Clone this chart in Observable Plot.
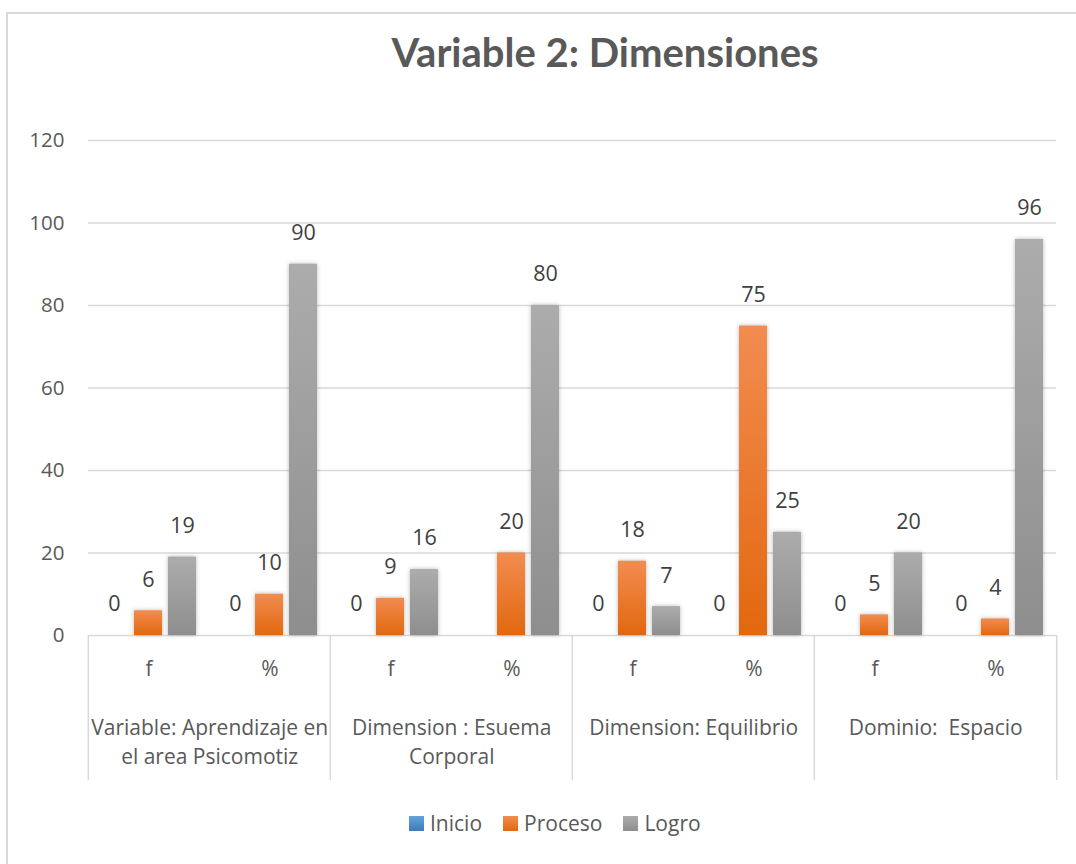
<!DOCTYPE html>
<html>
<head>
<meta charset="utf-8">
<script src="https://cdn.jsdelivr.net/npm/d3@7"></script>
<script src="https://cdn.jsdelivr.net/npm/@observablehq/plot@0.6"></script>
<style>
  html, body { margin: 0; padding: 0; background: #fff; }
  body { width: 1076px; height: 864px; position: relative; overflow: hidden; font-family: "Open Sans", sans-serif; }
  #border { position: absolute; left: 6px; top: 12px; width: 1100px; height: 900px; border: 2px solid #d9d9d9; }
  #title { position: absolute; top: 27px; left: 605px; transform: translateX(-50%); font-family: Lato, sans-serif; font-weight: bold; font-size: 40px; line-height: 50px; color: #595959; white-space: nowrap; }
  #chart { position: absolute; left: 0; top: 100px; }
  #legend { position: absolute; top: 809px; left: 409px; display: flex; align-items: center; font-size: 21px; color: #595959; white-space: nowrap; }
  #legend .item { display: flex; align-items: center; margin-right: 21px; }
  #legend .swatch { width: 15px; height: 15px; margin-right: 6px; }
  g[aria-label="bar"] rect { filter: drop-shadow(0 0 2px rgba(0, 0, 0, 0.28)); }
</style>
</head>
<body>
<div id="border"></div>
<div id="title">Variable 2: Dimensiones</div>
<div id="chart"></div>
<div id="legend"></div>
<script>
// Groups along the category axis, each split into frequency (f) and percentage (%)
const groups = ["Variable: Aprendizaje en\nel area Psicomotiz", "Dimension : Esuema\nCorporal", "Dimension: Equilibrio", "Dominio:  Espacio"];
const measures = ["f", "%"];
const series = ["Inicio", "Proceso", "Logro"];

// Values per category, in order: group 1 f, group 1 %, group 2 f, ...
const inicio  = [0, 0, 0, null, 0, 0, 0, 0];
const proceso = [6, 10, 9, 20, 18, 75, 5, 4];
const logro   = [19, 90, 16, 80, 7, 25, 20, 96];

const yTicks = [0, 20, 40, 60, 80, 100, 120];

// Bar gradients (top colour, bottom colour)
const gradients = {
  Inicio:  ["#65a3dc", "#3c7cbd"],
  Proceso: ["#f28c50", "#e2680f"],
  Logro:   ["#acacac", "#8e8e8e"]
};

const categories = groups.flatMap((g, gi) => measures.map(m => `${gi}|${m}`));
const seriesValues = [inicio, proceso, logro];
const rows = categories.flatMap((key, i) =>
  series.map((s, si) => ({key, series: s, value: seriesValues[si][i]})));
const cats = categories.map(key => ({key, measure: key.split("|")[1]}));
const groupRows = groups.map((label, gi) => ({key: `${gi}|${measures[0]}`, label}));
const lastKey = categories[categories.length - 1];

const W = 1076, H = 700, ML = 86, MR = 19, MT = 40, MB = 165;
const cellW = (W - ML - MR) / categories.length;
const lineColor = "#d9d9d9";

const chart = Plot.plot({
  width: W, height: H,
  marginLeft: ML, marginRight: MR, marginTop: MT, marginBottom: MB,
  style: {fontFamily: '"Open Sans", sans-serif', fontSize: "20.5px", color: "#595959", background: "transparent", overflow: "visible"},
  fx: {domain: categories, padding: 0, axis: null, label: null},
  x: {domain: series, paddingInner: 0.17, paddingOuter: 0.32, axis: null, label: null},
  y: {domain: [0, 120], ticks: yTicks, tickSize: 0, tickPadding: 24, label: null},
  color: {domain: series, range: series.map(s => `url(#grad-${s})`)},
  marks: [
    Plot.ruleY(yTicks, {stroke: lineColor, strokeWidth: 1.3}),
    // group separators below the baseline
    Plot.ruleX(groupRows, {fx: "key", x: null, y1: 0, y2: 0, insetBottom: -145, dx: -cellW / 2, stroke: lineColor, strokeWidth: 1.5}),
    Plot.ruleX([lastKey], {fx: d => d, x: null, y1: 0, y2: 0, insetBottom: -145, dx: cellW / 2, stroke: lineColor, strokeWidth: 1.5}),
    Plot.barY(rows, {fx: "key", x: "series", y: "value", fill: "series"}),
    Plot.text(rows, {fx: "key", x: "series", y: "value", text: "value", dy: -31, fontSize: 21.5, fill: "#404040"}),
    Plot.text(cats, {fx: "key", text: "measure", frameAnchor: "bottom", dy: 40, fontSize: 21, fill: "#595959"}),
    Plot.text(groupRows, {fx: "key", text: "label", frameAnchor: "bottom", lineAnchor: "top", dy: 80, dx: cellW / 2, lineHeight: 1.34, fontSize: 21, fill: "#595959"})
  ]
});

// Vertical gradients referenced by the colour scale
const defs = d3.select(chart).insert("defs", ":first-child");
for (const s of series) {
  const lg = defs.append("linearGradient").attr("id", `grad-${s}`).attr("x1", 0).attr("y1", 0).attr("x2", 0).attr("y2", 1);
  lg.append("stop").attr("offset", "0%").attr("stop-color", gradients[s][0]);
  lg.append("stop").attr("offset", "100%").attr("stop-color", gradients[s][1]);
}
document.getElementById("chart").appendChild(chart);

// Legend
const legend = d3.select("#legend");
for (const s of series) {
  const item = legend.append("div").attr("class", "item");
  item.append("div").attr("class", "swatch")
    .style("background", `linear-gradient(${gradients[s][0]}, ${gradients[s][1]})`);
  item.append("span").text(s);
}
</script>
</body>
</html>
